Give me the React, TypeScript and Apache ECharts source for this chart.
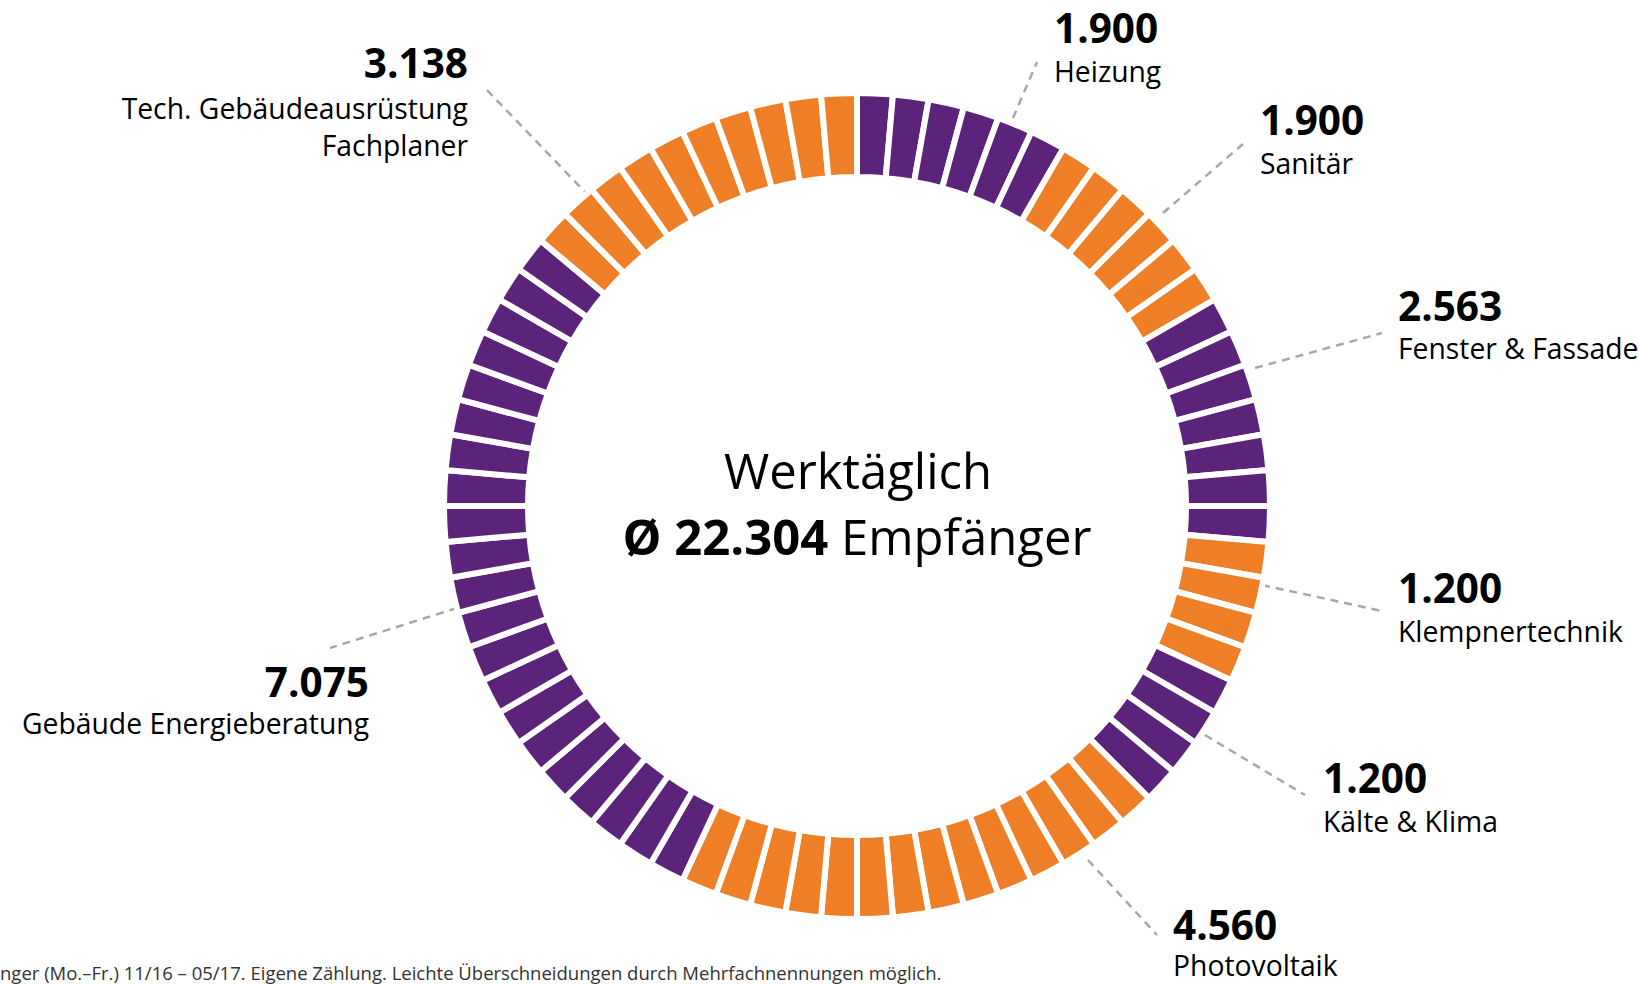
import React, { useEffect, useRef } from "react";
import * as echarts from "echarts";

// ---- data ----
const categories = [
  "Heizung",
  "Sanitär",
  "Fenster & Fassade",
  "Klempnertechnik",
  "Kälte & Klima",
  "Photovoltaik",
  "Gebäude Energieberatung",
  "Tech. Gebäudeausrüstung\nFachplaner",
];
const values = [1900, 1900, 2563, 1200, 1200, 4560, 7075, 3138];
// number of ring segments drawn for each category
const segments = [6, 6, 7, 4, 4, 14, 21, 10];
const dailyAverage = 22304;
const centerTitle = "Werktäglich";
const centerUnit = "Empfänger";
const footnote =
  "nger (Mo.–Fr.) 11/16 – 05/17. Eigene Zählung. Leichte Überschneidungen durch Mehrfachnennungen möglich.";

// ---- styling / layout ----
const PURPLE = "#5B2379";
const ORANGE = "#EF7F26";
const categoryColors = [PURPLE, ORANGE, PURPLE, ORANGE, PURPLE, ORANGE, PURPLE, ORANGE];
const FONT = "'Open Sans', 'Noto Sans', sans-serif";
const labelLayout = [
  { x: 1054, vb: 42, nb: 81, align: "left", line: [[1013, 118], [1037, 62]] },
  { x: 1260, vb: 134, nb: 173, align: "left", line: [[1163, 213], [1243, 144]] },
  { x: 1398, vb: 320, nb: 358, align: "left", line: [[1255, 368], [1382, 333]] },
  { x: 1398, vb: 602, nb: 641, align: "left", line: [[1262, 585], [1382, 611]] },
  { x: 1323, vb: 792, nb: 831, align: "left", line: [[1205, 735], [1305, 795]] },
  { x: 1173, vb: 939, nb: 975, align: "left", line: [[1088, 860], [1157, 935]] },
  { x: 369, vb: 696, nb: 733, align: "right", line: [[457, 608], [330, 648]] },
  { x: 468, vb: 77, nb: 118, align: "right", line: [[487, 90], [585, 192]] },
];

const fmt = (v: number) => String(v).replace(/\B(?=(\d{3})+(?!\d))/g, ".");

export default function App() {
  const ref = useRef<HTMLDivElement>(null);
  useEffect(() => {
    if (!ref.current) return;
    const chart = echarts.init(ref.current, undefined, { renderer: "svg" });

    const ringData: any[] = [];
    categories.forEach((c, i) => {
      for (let k = 0; k < segments[i]; k++) {
        ringData.push({
          name: c.replace("\n", " ") + " " + (k + 1),
          value: 1,
          itemStyle: { color: categoryColors[i] },
        });
      }
    });

    const graphics: any[] = [];
    categories.forEach((c, i) => {
      const L = labelLayout[i];
      graphics.push({
        type: "polyline",
        shape: { points: L.line },
        style: { stroke: "#A7A7A7", lineWidth: 2.5, lineDash: [8, 6], fill: null },
        silent: true,
      });
      graphics.push({
        type: "text",
        x: L.x,
        y: L.vb - 15,
        style: {
          text: fmt(values[i]),
          font: `bold 40.5px ${FONT}`,
          lineHeight: 34,
          fill: "#000",
          textAlign: L.align,
          textVerticalAlign: "middle",
        },
        silent: true,
      });
      c.split("\n").forEach((line, j) => {
        graphics.push({
          type: "text",
          x: L.x,
          y: L.nb + j * 37 - 10,
          style: {
            text: line,
            font: `28.3px ${FONT}`,
            lineHeight: 28,
            fill: "#000",
            textAlign: L.align,
            textVerticalAlign: "middle",
          },
          silent: true,
        });
      });
    });

    graphics.push({
      type: "text",
      x: 858,
      y: 470,
      style: {
        text: centerTitle,
        font: `49px ${FONT}`,
        lineHeight: 52,
        fill: "#000",
        textAlign: "center",
        textVerticalAlign: "middle",
      },
      silent: true,
    });
    graphics.push({
      type: "text",
      x: 857,
      y: 536,
      style: {
        text: `{b|Ø ${fmt(dailyAverage)}} ${centerUnit}`,
        font: `49px ${FONT}`,
        lineHeight: 52,
        fill: "#000",
        textAlign: "center",
        textVerticalAlign: "middle",
        rich: {
          b: { fontWeight: "bold", fontSize: 49, lineHeight: 52, fontFamily: FONT, fill: "#000" },
        },
      },
      silent: true,
    });
    graphics.push({
      type: "text",
      x: 0,
      y: 972,
      style: {
        text: footnote,
        font: `18.5px ${FONT}`,
        lineHeight: 20,
        fill: "#333",
        textAlign: "left",
        textVerticalAlign: "middle",
      },
      silent: true,
    });

    chart.setOption({
      animation: false,
      backgroundColor: "#fff",
      series: [
        {
          type: "pie",
          center: [857, 506],
          radius: [329, 413],
          startAngle: 90,
          clockwise: true,
          silent: true,
          label: { show: false },
          labelLine: { show: false },
          emphasis: { disabled: true },
          itemStyle: { borderColor: "#fff", borderWidth: 6 },
          data: ringData,
        },
      ],
      graphic: graphics,
    });
    return () => chart.dispose();
  }, []);
  return (
    <div
      ref={ref}
      style={{ position: "fixed", left: 0, top: 0, width: 1639, height: 984 }}
    />
  );
}
